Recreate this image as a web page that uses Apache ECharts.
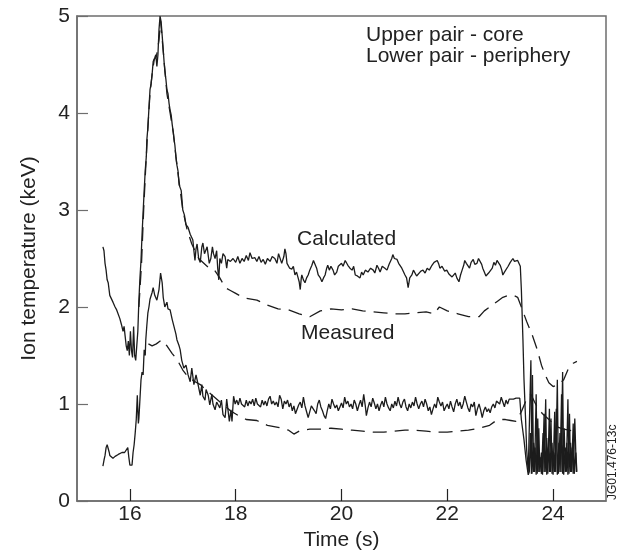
<!DOCTYPE html>
<html><head><meta charset="utf-8">
<script src="https://cdn.jsdelivr.net/npm/echarts@6/dist/echarts.min.js"></script>
<style>html,body{margin:0;padding:0;background:#fff}#c{width:624px;height:557px}</style>
</head><body><div id="c"></div>
<script>
// ---- data (time in s, ion temperature in keV) ----
const xTicks = [16, 18, 20, 22, 24];
const yTicks = [0, 1, 2, 3, 4, 5];

const coreCalculated = [
[15.49,2.62],[15.51,2.58],[15.53,2.45],[15.55,2.38],[15.57,2.28],[15.59,2.25],[15.62,2.12],[15.65,2.10],[15.68,2.05],[15.72,2.0],[15.75,1.97],[15.78,1.95],[15.81,1.88],[15.84,1.82],[15.87,1.75],[15.89,1.8],[15.91,1.7],[15.93,1.6],[15.95,1.55],[15.97,1.65],[15.99,1.5],[16.01,1.75],[16.03,1.55],[16.05,1.48],[16.07,1.8],[16.09,1.5],[16.11,1.45],[16.13,1.47],
[16.15,1.75],[16.17,2.07],[16.19,2.3],[16.21,2.48],[16.23,2.75],[16.25,2.98],[16.27,3.2],[16.29,3.41],[16.31,3.55],[16.32,3.72],[16.34,3.85],[16.36,4.05],[16.38,4.24],[16.40,4.3],[16.42,4.4],[16.44,4.53],[16.47,4.57],[16.49,4.6],[16.51,4.48],[16.53,4.6],[16.55,4.86],[16.57,5.0],[16.59,4.94],[16.61,4.8],[16.63,4.65],[16.65,4.5],[16.66,4.44],[16.68,4.35],[16.70,4.24],[16.72,4.2],[16.74,4.1],[16.76,4.03],[16.78,3.98],[16.80,3.88],[16.82,3.8],[16.83,3.75],[16.85,3.67],[16.87,3.55],[16.89,3.46],[16.91,3.4],[16.93,3.26],[16.95,3.28],[16.97,3.2],[17.0,3.0],[17.03,2.95],[17.06,2.85],[17.1,2.82],[17.14,2.75],[17.19,2.69],[17.21,2.58],[17.23,2.48],[17.25,2.6],[17.27,2.65],[17.3,2.5],[17.33,2.46],[17.36,2.62],[17.38,2.66],[17.41,2.55],[17.44,2.54],[17.46,2.62],[17.48,2.6],[17.5,2.45],[17.53,2.5],[17.56,2.62],[17.58,2.55],[17.61,2.5],[17.64,2.58],[17.66,2.4],[17.68,2.28],[17.7,2.5],[17.73,2.45],[17.76,2.55],[17.8,2.52],[17.83,2.4],[17.85,2.49],[17.9,2.47],[17.95,2.5],
[18.0,2.46],[18.04,2.52],[18.08,2.45],[18.12,2.5],[18.16,2.47],[18.2,2.53],[18.24,2.48],[18.27,2.56],[18.31,2.5],[18.36,2.51],[18.4,2.47],[18.44,2.52],[18.48,2.46],[18.52,2.49],[18.56,2.44],[18.6,2.5],[18.65,2.47],[18.69,2.52],[18.74,2.5],[18.78,2.45],[18.81,2.55],[18.84,2.53],[18.87,2.45],[18.89,2.43],[18.91,2.52],[18.93,2.6],[18.95,2.55],[18.97,2.45],[18.99,2.47],[19.02,2.4],[19.06,2.39],[19.09,2.42],[19.12,2.33],[19.15,2.36],[19.18,2.3],[19.2,2.26],[19.22,2.18],[19.24,2.3],[19.25,2.33],[19.28,2.28],[19.31,2.25],[19.34,2.3],[19.37,2.33],[19.4,2.38],[19.42,2.36],[19.44,2.43],[19.47,2.48],[19.5,2.46],[19.53,2.4],[19.56,2.33],[19.6,2.3],[19.63,2.26],[19.66,2.3],[19.69,2.33],[19.72,2.4],[19.74,2.43],[19.77,2.38],[19.8,2.42],[19.84,2.38],[19.87,2.33],[19.91,2.36],[19.94,2.42],[19.97,2.4],
[20.0,2.45],[20.03,2.42],[20.07,2.48],[20.1,2.46],[20.12,2.43],[20.16,2.4],[20.2,2.38],[20.23,2.42],[20.26,2.33],[20.3,2.32],[20.35,2.3],[20.38,2.36],[20.41,2.33],[20.45,2.38],[20.5,2.36],[20.55,2.4],[20.6,2.38],[20.63,2.35],[20.67,2.43],[20.7,2.4],[20.73,2.36],[20.77,2.42],[20.82,2.4],[20.86,2.38],[20.9,2.44],[20.92,2.46],[20.95,2.5],[20.97,2.54],[21.0,2.5],[21.05,2.49],[21.08,2.45],[21.11,2.43],[21.14,2.4],[21.16,2.38],[21.2,2.33],[21.23,2.3],[21.26,2.2],[21.29,2.3],[21.33,2.33],[21.36,2.38],[21.39,2.36],[21.42,2.32],[21.45,2.33],[21.5,2.37],[21.54,2.38],[21.58,2.35],[21.62,2.4],[21.66,2.38],[21.71,2.43],[21.75,2.46],[21.81,2.48],[21.84,2.44],[21.86,2.4],[21.9,2.42],[21.95,2.37],[21.99,2.38],
[22.03,2.34],[22.06,2.36],[22.09,2.31],[22.12,2.33],[22.15,2.35],[22.18,2.3],[22.22,2.26],[22.25,2.33],[22.28,2.38],[22.31,2.43],[22.33,2.48],[22.36,2.45],[22.39,2.43],[22.42,2.4],[22.45,2.46],[22.49,2.49],[22.52,2.44],[22.56,2.45],[22.59,2.5],[22.62,2.48],[22.65,2.44],[22.67,2.4],[22.7,2.36],[22.73,2.32],[22.75,2.3],[22.78,2.35],[22.81,2.33],[22.85,2.4],[22.88,2.46],[22.91,2.43],[22.94,2.48],[22.97,2.46],[23.0,2.43],[23.03,2.38],[23.05,2.33],[23.08,2.36],[23.11,2.38],[23.15,2.42],[23.19,2.46],[23.22,2.44],[23.24,2.5],[23.27,2.47],[23.3,2.45],[23.33,2.48],[23.36,2.5],[23.38,2.42],[23.4,2.18],[23.43,1.66],[23.45,1.25],[23.48,0.84],[23.5,0.53],[23.53,0.3],
[23.56,0.3],[23.58,1.45],[23.6,0.28],[23.63,0.6],[23.65,0.3],[23.68,1.1],[23.7,0.28],[23.73,0.75],[23.75,0.3],[23.78,0.5],[23.8,0.27],[23.83,0.9],[23.85,0.3],[23.88,0.65],[23.9,0.28],[23.93,0.95],[23.95,0.3],[23.98,0.6],[24.0,0.27],[24.03,0.92],[24.05,0.3],[24.08,1.25],[24.1,0.28],[24.13,0.7],[24.15,0.3],[24.18,1.33],[24.2,0.27],[24.23,0.55],[24.25,0.3],[24.28,1.05],[24.3,0.28],[24.33,0.6],[24.35,0.3],[24.38,0.8],[24.4,0.28],[24.43,0.5],[24.45,0.3]
];

const coreMeasured = [
[16.17,2.0],[16.22,2.45],[16.26,3.0],[16.3,3.45],[16.34,3.85],[16.38,4.2],[16.42,4.4],[16.46,4.55],[16.5,4.58],[16.55,4.75],[16.58,4.95],[16.62,4.7],[16.66,4.45],[16.7,4.2],[16.76,4.0],[16.82,3.8],[16.88,3.5],[16.94,3.25],[17.0,3.0],[17.08,2.8],[17.17,2.65],[17.3,2.5],[17.5,2.4],[17.6,2.38],[17.7,2.3],[17.8,2.2],[17.9,2.17],[18.0,2.14],[18.1,2.11],[18.2,2.09],[18.4,2.07],[18.6,2.02],[18.8,1.98],[19.0,1.97],[19.2,1.93],[19.4,1.9],[19.6,1.96],[19.8,1.98],[20.0,1.97],[20.2,1.98],[20.4,1.96],[20.6,1.95],[20.8,1.94],[21.0,1.93],[21.2,1.93],[21.4,1.94],[21.6,1.95],[21.75,1.93],[21.85,2.0],[22.0,1.96],[22.2,1.93],[22.4,1.9],[22.6,1.9],[22.7,1.96],[22.85,2.02],[22.95,2.06],[23.05,2.1],[23.15,2.12],[23.25,2.12],[23.33,2.1],[23.4,2.0],[23.5,1.85],[23.6,1.72],[23.7,1.56],[23.78,1.4],[23.85,1.3],[23.92,1.22],[24.0,1.18],[24.1,1.2],[24.2,1.25],[24.3,1.38],[24.38,1.42],[24.45,1.44]
];

const peripheryCalculated = [
[15.49,0.36],[15.51,0.42],[15.53,0.47],[15.55,0.55],[15.57,0.58],[15.59,0.56],[15.61,0.5],[15.62,0.47],[15.65,0.46],[15.68,0.44],[15.72,0.46],[15.75,0.47],[15.78,0.48],[15.81,0.47],[15.85,0.5],[15.9,0.5],[15.93,0.52],[15.96,0.55],[15.98,0.45],[16.0,0.37],[16.04,0.37],[16.06,0.5],[16.08,0.58],[16.1,0.7],[16.12,0.84],[16.14,1.09],[16.16,0.8],[16.17,0.85],[16.19,1.05],[16.21,1.25],[16.23,1.33],[16.25,1.3],[16.27,1.56],[16.29,1.5],[16.3,1.66],[16.32,1.81],[16.34,1.94],[16.36,2.0],[16.38,2.08],[16.42,2.15],[16.44,2.2],[16.47,2.12],[16.51,2.07],[16.55,2.18],[16.58,2.35],[16.61,2.25],[16.63,2.1],[16.66,2.0],[16.7,2.05],[16.72,1.98],[16.76,1.97],[16.8,1.87],[16.83,1.85],[16.87,1.72],[16.89,1.66],[16.93,1.6],[16.95,1.56],[16.98,1.45],[17.02,1.37],[17.06,1.4],[17.1,1.3],[17.14,1.23],[17.17,1.37],[17.21,1.2],[17.25,1.3],[17.27,1.25],[17.33,1.09],[17.36,1.2],[17.38,1.08],[17.42,1.04],[17.44,1.15],[17.48,1.09],[17.51,0.99],[17.55,1.1],[17.57,1.0],[17.61,0.94],[17.64,1.02],[17.67,0.99],[17.7,0.96],[17.73,1.04],[17.76,0.89],[17.8,0.86],[17.83,1.05],[17.85,1.04],[17.88,0.82],[17.91,0.94],[17.93,0.82],[17.96,1.08],[17.99,1.0],[18.02,1.04],[18.05,0.99],[18.08,1.06],[18.11,1.0],[18.14,1.02],[18.17,0.97],
[18.2,1.04],[18.23,0.98],[18.26,1.03],[18.29,1.0],[18.32,1.05],[18.35,0.98],[18.38,1.06],[18.41,1.0],[18.44,1.02],[18.47,0.97],[18.5,1.04],[18.53,0.99],[18.56,1.03],[18.59,0.98],[18.62,1.05],[18.65,1.08],[18.68,1.0],[18.71,1.03],[18.74,0.99],[18.77,1.02],[18.8,0.97],[18.83,1.09],[18.86,1.05],[18.89,0.95],[18.92,1.03],[18.95,1.0],[18.98,1.04],[19.01,0.97],[19.04,1.01],[19.07,0.93],[19.1,0.98],[19.13,0.9],[19.16,0.88],[19.19,0.99],[19.22,1.02],[19.25,0.96],[19.28,1.07],[19.31,0.98],[19.34,0.92],[19.37,0.86],[19.4,0.84],[19.43,0.98],[19.46,1.0],[19.49,0.93],[19.52,0.9],[19.55,1.0],[19.58,1.04],[19.61,0.97],[19.64,0.93],[19.67,0.88],[19.7,0.85],[19.73,0.93],[19.76,1.0],[19.79,0.95],[19.82,1.05],[19.85,1.0],[19.88,0.96],[19.91,0.99],[19.94,0.93],[19.97,0.97],
[20.0,1.01],[20.03,0.96],[20.06,1.07],[20.09,1.0],[20.12,1.03],[20.15,0.97],[20.18,1.0],[20.21,0.95],[20.24,1.04],[20.27,1.0],[20.3,0.93],[20.33,0.99],[20.36,1.04],[20.39,0.97],[20.42,1.1],[20.45,0.98],[20.47,0.88],[20.5,0.96],[20.53,1.02],[20.56,0.97],[20.59,1.06],[20.62,1.01],[20.65,0.95],[20.68,1.0],[20.71,0.93],[20.74,0.99],[20.77,1.03],[20.8,0.97],[20.83,1.07],[20.86,1.0],[20.89,0.96],[20.92,0.93],[20.95,1.0],[20.98,0.96],[21.01,1.03],[21.04,0.98],[21.07,1.07],[21.1,1.0],[21.13,0.96],[21.16,1.02],[21.19,1.05],[21.22,0.97],[21.25,0.93],[21.28,1.0],[21.31,0.96],[21.34,1.02],[21.37,0.98],[21.4,1.07],[21.43,1.0],[21.46,0.95],[21.49,1.0],[21.52,1.03],[21.55,0.97],[21.58,1.05],[21.61,1.0],[21.64,0.93],[21.67,0.97],[21.7,0.89],[21.73,0.95],[21.76,1.0],[21.79,0.96],[21.82,1.07],[21.85,1.02],[21.88,0.98],[21.91,1.02],[21.94,0.93],[21.97,0.97],
[22.0,1.0],[22.03,0.95],[22.06,1.03],[22.09,0.97],[22.12,0.92],[22.15,1.0],[22.18,1.05],[22.21,0.98],[22.24,1.02],[22.27,0.95],[22.3,1.0],[22.33,1.08],[22.36,1.02],[22.39,0.96],[22.42,0.92],[22.45,1.0],[22.48,0.97],[22.51,1.02],[22.54,0.88],[22.57,0.95],[22.6,1.0],[22.63,0.94],[22.66,0.86],[22.69,0.93],[22.72,0.97],[22.75,0.92],[22.78,0.95],[22.81,0.91],[22.84,0.97],[22.87,1.0],[22.9,0.96],[22.93,1.03],[22.96,1.05],[22.99,1.0],[23.02,1.07],[23.05,1.02],[23.08,0.97],[23.11,1.04],[23.14,1.0],[23.17,1.05],[23.2,1.06],[23.25,1.05],[23.3,1.06],[23.37,1.06],[23.4,0.84],[23.45,0.63],[23.49,0.42],[23.53,0.27],
[23.55,0.3],[23.57,0.7],[23.59,0.28],[23.61,1.3],[23.63,0.3],[23.66,0.55],[23.68,0.27],[23.71,0.85],[23.73,0.3],[23.76,0.45],[23.78,0.28],[23.81,0.7],[23.83,0.3],[23.86,1.05],[23.88,0.27],[23.91,0.55],[23.93,0.3],[23.96,0.85],[23.98,0.28],[24.01,0.5],[24.03,0.3],[24.06,0.95],[24.08,0.27],[24.11,0.6],[24.13,0.3],[24.16,1.1],[24.18,0.28],[24.21,0.75],[24.23,0.3],[24.26,0.6],[24.28,0.27],[24.31,0.9],[24.33,0.3],[24.36,0.55],[24.38,0.28],[24.41,0.85],[24.44,0.3]
];

const peripheryMeasured = [
[16.35,1.62],[16.42,1.6],[16.5,1.62],[16.6,1.66],[16.7,1.6],[16.8,1.52],[16.9,1.45],[17.0,1.35],[17.1,1.28],[17.2,1.24],[17.33,1.2],[17.45,1.14],[17.6,1.07],[17.75,1.0],[17.9,0.93],[18.05,0.88],[18.2,0.84],[18.4,0.83],[18.6,0.78],[18.8,0.76],[19.0,0.73],[19.1,0.69],[19.2,0.72],[19.4,0.74],[19.6,0.74],[19.8,0.75],[20.0,0.74],[20.2,0.73],[20.4,0.72],[20.6,0.71],[20.8,0.71],[21.0,0.72],[21.2,0.73],[21.4,0.73],[21.6,0.72],[21.8,0.71],[22.0,0.71],[22.2,0.72],[22.4,0.73],[22.6,0.75],[22.8,0.78],[22.9,0.82],[23.0,0.84],[23.1,0.84],[23.2,0.83],[23.3,0.82],[23.4,0.92],[23.5,1.05],[23.58,1.1],[23.65,1.02],[23.72,0.95],[23.8,0.9],[23.9,0.85],[24.0,0.8],[24.1,0.76],[24.2,0.74],[24.3,0.73],[24.45,0.71]
];

const notes = ['Upper pair - core', 'Lower pair - periphery'];
const curveLabels = ['Calculated', 'Measured'];
const figureId = 'JG01.476-13c';

// ---- chart ----
const FONT = '"Liberation Sans", Arial, Helvetica, sans-serif';
const INK = '#222';
const AXIS = '#6e6e6e';
const chart = echarts.init(document.getElementById('c'), null, {renderer: 'canvas'});

function solid(d){return {type:'line', data:d, symbol:'none', animation:false, silent:true,
  lineStyle:{color:'#1c1c1c', width:1.3, type:'solid'}};}
function dashed(d){return {type:'line', data:d, symbol:'none', animation:false, silent:true,
  lineStyle:{color:'#1c1c1c', width:1.3, type:[14,8]}};}

chart.setOption({
  backgroundColor:'#fff',
  animation:false,
  grid:{left:77, right:18, top:16, bottom:56, show:true, borderColor:AXIS, borderWidth:1.5, backgroundColor:'transparent'},
  xAxis:{type:'value', min:15, max:25,
    name:'Time (s)', nameLocation:'middle', nameGap:27,
    nameTextStyle:{fontFamily:FONT, fontSize:21, color:INK},
    axisLine:{show:true, lineStyle:{color:AXIS, width:1.5}},
    axisTick:{show:true, inside:true, length:12, customValues:xTicks, lineStyle:{color:INK, width:1.2}},
    axisLabel:{customValues:xTicks, fontFamily:FONT, fontSize:21, color:INK, margin:3},
    splitLine:{show:false}},
  yAxis:{type:'value', min:0, max:5, interval:1,
    name:'Ion temperature (keV)', nameLocation:'middle', nameGap:37,
    nameTextStyle:{fontFamily:FONT, fontSize:21, color:INK},
    axisLine:{show:true, lineStyle:{color:AXIS, width:1.5}},
    axisTick:{show:true, inside:true, length:11, lineStyle:{color:AXIS, width:1.2}},
    axisLabel:{fontFamily:FONT, fontSize:21, color:INK, margin:7,
      formatter: v => yTicks.includes(v) ? String(v) : ''},
    splitLine:{show:false}},
  series:[solid(coreCalculated), dashed(coreMeasured), solid(peripheryCalculated), dashed(peripheryMeasured)],
  graphic:[
    {type:'text', left:366, top:25, style:{text:notes[0], font:'21px '+FONT, fill:INK}},
    {type:'text', left:366, top:46, style:{text:notes[1], font:'21px '+FONT, fill:INK}},
    {type:'text', left:297, top:229, style:{text:curveLabels[0], font:'21px '+FONT, fill:INK}},
    {type:'text', left:301, top:323, style:{text:curveLabels[1], font:'21px '+FONT, fill:INK}},
    {type:'text', x:607, y:500, rotation:Math.PI/2, style:{text:figureId, font:'12px '+FONT, fill:INK}}
  ]
});
</script></body></html>
